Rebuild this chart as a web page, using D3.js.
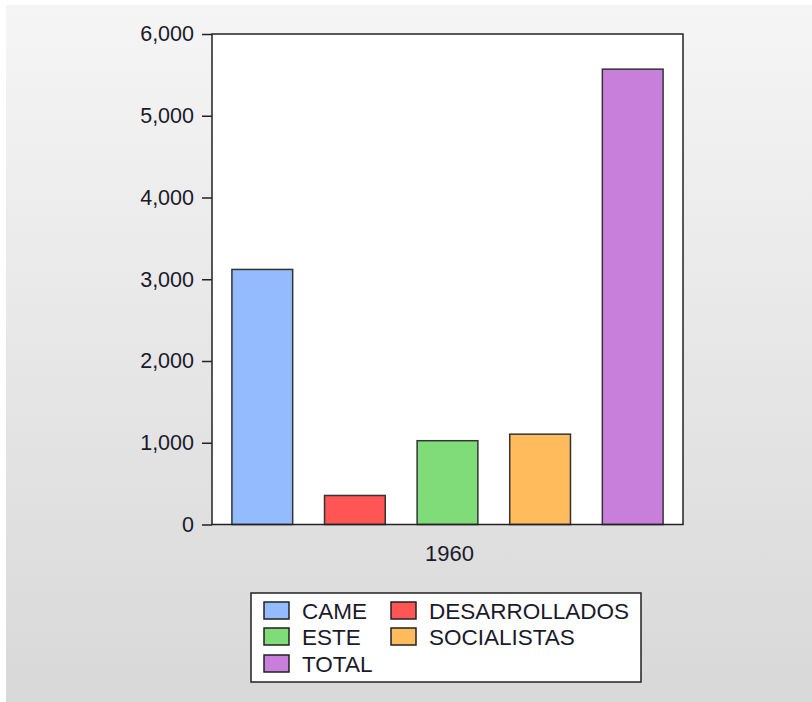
<!DOCTYPE html>
<html><head><meta charset="utf-8">
<script src="https://cdn.jsdelivr.net/npm/d3@7"></script>
<style>html,body{margin:0;padding:0;background:#fff;}svg{display:block;}</style>
</head><body>
<svg id="c" width="812" height="702"></svg>
<script>
const categories = ["CAME","DESARROLLADOS","ESTE","SOCIALISTAS","TOTAL"];
const values = [3120, 355, 1025, 1105, 5570];
const colors = ["#95bbff","#ff5555","#80dc78","#ffbb5c","#c87fdc"];
const yTicks = [0,1000,2000,3000,4000,5000,6000];
const xLabel = "1960";

const svg = d3.select("#c");
const defs = svg.append("defs");
const g = defs.append("linearGradient").attr("id","bg").attr("x1",0).attr("y1",0).attr("x2",0).attr("y2",1);
g.append("stop").attr("offset","0%").attr("stop-color","#f5f5f5");
g.append("stop").attr("offset","100%").attr("stop-color","#d8d8d8");
svg.append("rect").attr("x",6).attr("y",5).attr("width",806).attr("height",697).attr("fill","url(#bg)");

const L=212, R=683, T=34, B=524.5;
const font = "'Liberation Sans', Arial, sans-serif";
const y = d3.scaleLinear().domain([0,6000]).range([B,T]);
const x = d3.scaleBand().domain(categories).range([L,R]).paddingInner(0.344).paddingOuter(0.215);

svg.append("rect").attr("x",L).attr("y",T).attr("width",R-L).attr("height",B-T).attr("fill","#fff");

svg.append("g").selectAll("rect").data(categories).join("rect")
  .attr("x",d=>x(d)).attr("width",x.bandwidth())
  .attr("y",(d,i)=>y(values[i])).attr("height",(d,i)=>B-y(values[i]))
  .attr("fill",(d,i)=>colors[i]).attr("stroke","#333").attr("stroke-width",1.5);

svg.append("rect").attr("x",L).attr("y",T).attr("width",R-L).attr("height",B-T)
  .attr("fill","none").attr("stroke","#222").attr("stroke-width",1.5);

const yAxis = d3.axisLeft(y).tickValues(yTicks).tickSize(10).tickPadding(8).tickFormat(d3.format(","));
const ya = svg.append("g").attr("transform",`translate(${L},0)`).call(yAxis);
ya.select(".domain").remove();
ya.selectAll("line").attr("stroke","#222").attr("stroke-width",1.5);
ya.selectAll("text").attr("font-family",font).attr("font-size",21.5).attr("fill","#1a1a2a");

svg.append("text").attr("x",(L+R)/2+2).attr("y",561).attr("text-anchor","middle")
  .attr("font-family",font).attr("font-size",22).attr("fill","#1a1a2a").text(xLabel);

// legend
const lg = svg.append("g");
lg.append("rect").attr("x",251).attr("y",593).attr("width",390).attr("height",89)
  .attr("fill","#fff").attr("stroke","#222").attr("stroke-width",1.5);
const colX=[264,391], rowY=[602,628,655];
categories.forEach((c,i)=>{
  const cx=colX[i%2], cy=rowY[Math.floor(i/2)];
  lg.append("rect").attr("x",cx).attr("y",cy).attr("width",25).attr("height",17)
    .attr("fill",colors[i]).attr("stroke","#222").attr("stroke-width",1.5);
  lg.append("text").attr("x",cx+38).attr("y",cy+16.5).attr("font-family",font).attr("font-size",22.5)
    .attr("fill","#1a1a2a").text(c);
});
</script>
</body></html>
